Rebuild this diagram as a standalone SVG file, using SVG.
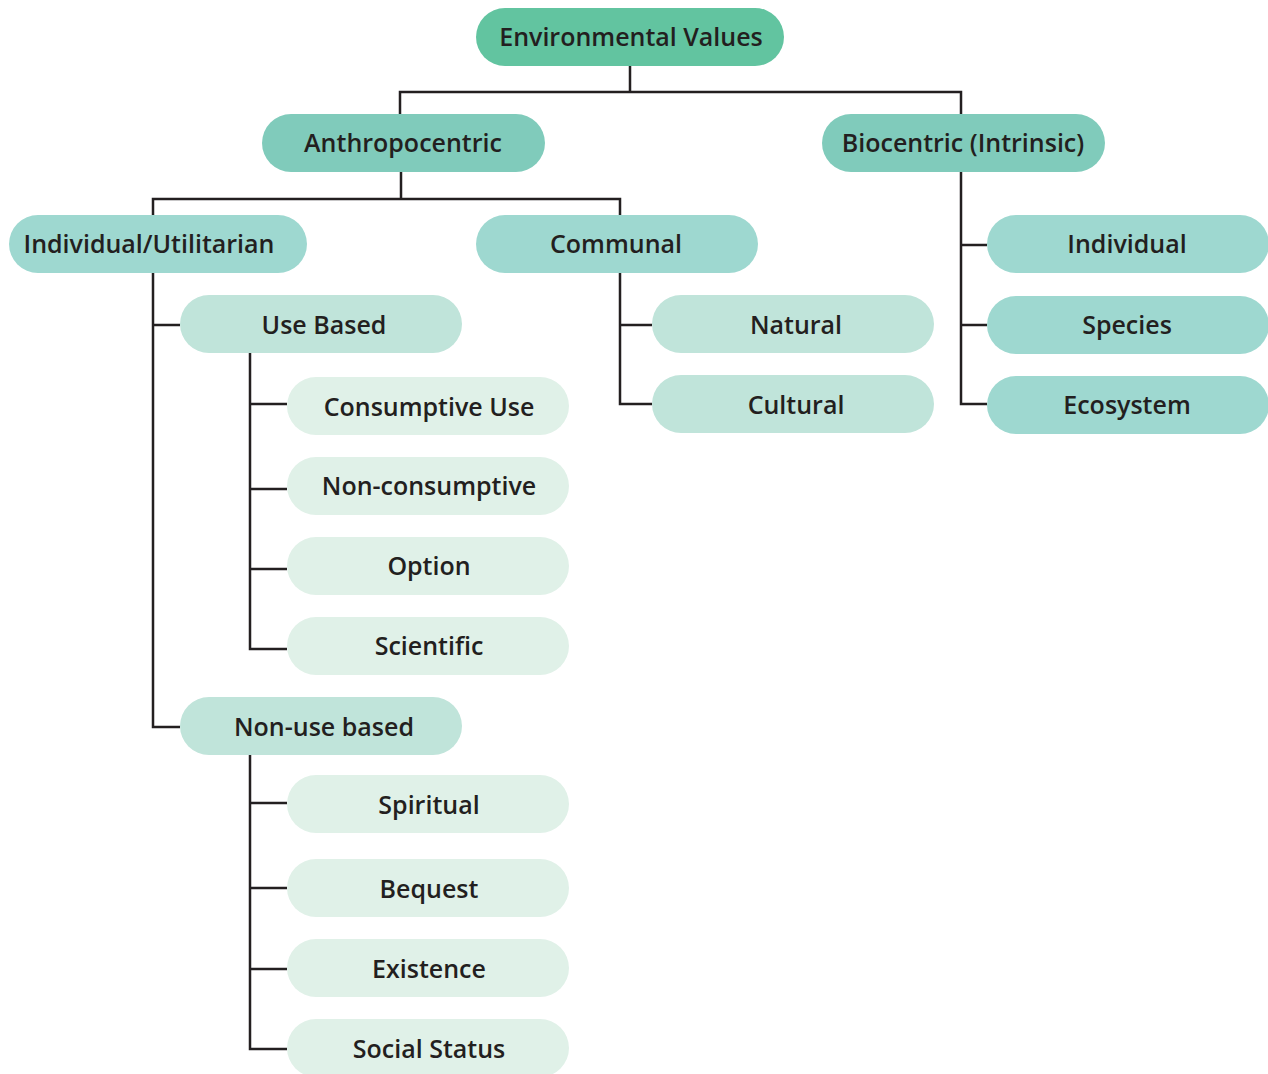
<svg xmlns="http://www.w3.org/2000/svg" width="1268" height="1074" viewBox="0 0 1268 1074">
<style>
.t{font-family:"Open Sans","Liberation Sans",sans-serif;font-weight:600;font-size:25px;fill:#231f20;text-anchor:middle;dominant-baseline:central}
.c0{fill:#62c4a0}.c1{fill:#80cbbb}.c2{fill:#9ed8d0}.c3{fill:#c0e4da}.c4{fill:#e0f1e8}
.ln{fill:none;stroke:#231f20;stroke-width:2.5}
</style>
<rect width="1268" height="1074" fill="#fff"/>
<g id="connectors" class="ln">
<path d="M630 66V92M400 114V92H961V114"/>
<path d="M401 172V199M153 215V199H620V215"/>
<path d="M153 273V727H180M153 325H180"/>
<path d="M250 353V649H287M250 404H287M250 489H287M250 569H287"/>
<path d="M250 755V1049H287M250 803H287M250 888H287M250 969H287"/>
<path d="M620 273V404H652M620 325H652"/>
<path d="M961 172V404H987M961 245H987M961 325H987"/>
</g>
<g id="n-root"><rect class="c0" x="476" y="8" width="308" height="58" rx="29"/><text class="t" x="631" y="36">Environmental Values</text></g>
<g id="n-anthro"><rect class="c1" x="262" y="114" width="283" height="58" rx="29"/><text class="t" x="403" y="142">Anthropocentric</text></g>
<g id="n-bio"><rect class="c1" x="822" y="114" width="283" height="58" rx="29"/><text class="t" x="963" y="142">Biocentric (Intrinsic)</text></g>
<g id="n-indutil"><rect class="c2" x="9" y="215" width="298" height="58" rx="29"/><text class="t" x="149" y="243">Individual/Utilitarian</text></g>
<g id="n-communal"><rect class="c2" x="476" y="215" width="282" height="58" rx="29"/><text class="t" x="616" y="243">Communal</text></g>
<g id="n-individual"><rect class="c2" x="987" y="215" width="282" height="58" rx="29"/><text class="t" x="1127" y="243">Individual</text></g>
<g id="n-species"><rect class="c2" x="987" y="296" width="282" height="58" rx="29"/><text class="t" x="1127" y="324">Species</text></g>
<g id="n-ecosystem"><rect class="c2" x="987" y="376" width="282" height="58" rx="29"/><text class="t" x="1127" y="404">Ecosystem</text></g>
<g id="n-usebased"><rect class="c3" x="180" y="295" width="282" height="58" rx="29"/><text class="t" x="324" y="324">Use Based</text></g>
<g id="n-natural"><rect class="c3" x="652" y="295" width="282" height="58" rx="29"/><text class="t" x="796" y="324">Natural</text></g>
<g id="n-cultural"><rect class="c3" x="652" y="375" width="282" height="58" rx="29"/><text class="t" x="796" y="404">Cultural</text></g>
<g id="n-nonuse"><rect class="c3" x="180" y="697" width="282" height="58" rx="29"/><text class="t" x="324" y="726">Non-use based</text></g>
<g id="n-consumptive"><rect class="c4" x="287" y="377" width="282" height="58" rx="29"/><text class="t" x="429" y="406">Consumptive Use</text></g>
<g id="n-noncons"><rect class="c4" x="287" y="457" width="282" height="58" rx="29"/><text class="t" x="429" y="485">Non-consumptive</text></g>
<g id="n-option"><rect class="c4" x="287" y="537" width="282" height="58" rx="29"/><text class="t" x="429" y="565">Option</text></g>
<g id="n-scientific"><rect class="c4" x="287" y="617" width="282" height="58" rx="29"/><text class="t" x="429" y="645">Scientific</text></g>
<g id="n-spiritual"><rect class="c4" x="287" y="775" width="282" height="58" rx="29"/><text class="t" x="429" y="804">Spiritual</text></g>
<g id="n-bequest"><rect class="c4" x="287" y="859" width="282" height="58" rx="29"/><text class="t" x="429" y="888">Bequest</text></g>
<g id="n-existence"><rect class="c4" x="287" y="939" width="282" height="58" rx="29"/><text class="t" x="429" y="968">Existence</text></g>
<g id="n-social"><rect class="c4" x="287" y="1019" width="282" height="58" rx="29"/><text class="t" x="429" y="1048">Social Status</text></g>
</svg>
